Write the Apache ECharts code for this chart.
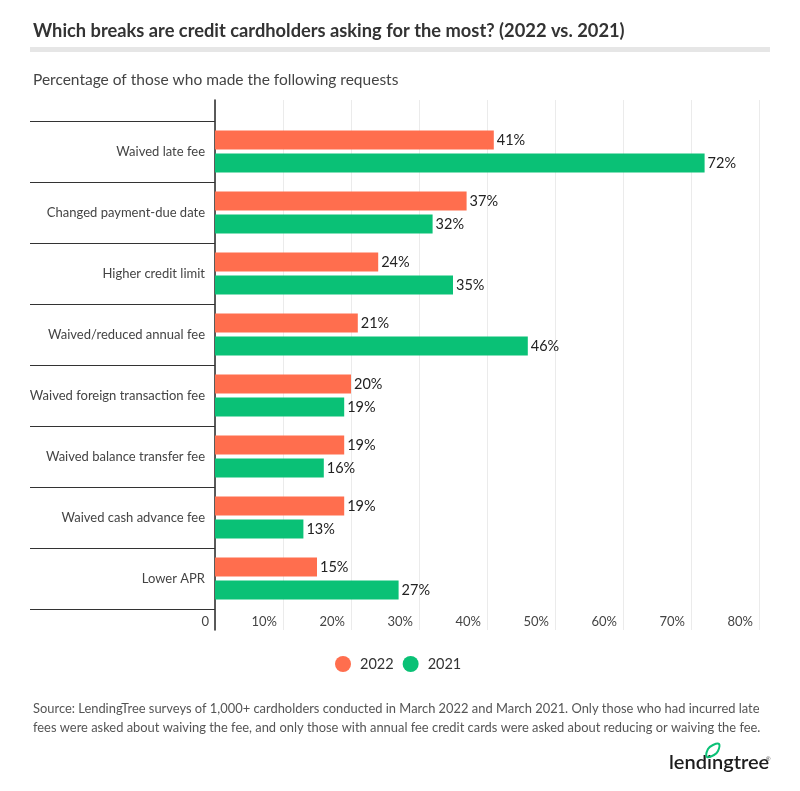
<!DOCTYPE html>
<html><head><meta charset="utf-8">
<script src="https://cdn.jsdelivr.net/npm/echarts@6/dist/echarts.min.js"></script>
<style>html,body{margin:0;padding:0;background:#fff}#c{width:800px;height:791px}</style>
</head><body><div id="c"></div>
<script>
const categories = ["Waived late fee","Changed payment-due date","Higher credit limit","Waived/reduced annual fee","Waived foreign transaction fee","Waived balance transfer fee","Waived cash advance fee","Lower APR"];
const values2022 = [41,37,24,21,20,19,19,15];
const values2021 = [72,32,35,46,19,16,13,27];
const seriesNames = ["2022","2021"];
const xTicks = [0,10,20,30,40,50,60,70,80];

const FONT = 'Lato, "Noto Sans", sans-serif';
const chart = echarts.init(document.getElementById('c'), null, {renderer:'canvas'});
const option = {
  backgroundColor:'#fff',
  animation:false,
  textStyle:{fontFamily:FONT},
  title:[
    {text:'Which breaks are credit cardholders asking for the most? (2022 vs. 2021)', left:28, top:17,
     textStyle:{fontFamily:FONT, fontSize:18.3, fontWeight:'bold', color:'#333'}},
    {text:'Percentage of those who made the following requests', left:28, top:67,
     textStyle:{fontFamily:FONT, fontSize:15.5, fontWeight:'normal', color:'#444'}},
    {text:'Source: LendingTree surveys of 1,000+ cardholders conducted in March 2022 and March 2021. Only those who had incurred late\nfees were asked about waiving the fee, and only those with annual fee credit cards were asked about reducing or waiving the fee.',
     left:28, top:694, textStyle:{fontFamily:FONT, fontSize:12.9, fontWeight:'normal', color:'#555', lineHeight:19}}
  ],
  legend:{data:seriesNames, top:651, left:330, icon:'circle', itemWidth:16, itemHeight:16, itemGap:9,
    textStyle:{fontFamily:FONT, fontSize:14.5, color:'#333', padding:[0,0,0,4]}},
  grid:[
    {left:215, right:41, top:100, bottom:161},
    {left:215, right:41, top:121, bottom:182}
  ],
  xAxis:[
    {gridIndex:0, type:'value', min:xTicks[0], max:xTicks[xTicks.length-1], interval:10,
     axisLine:{show:false}, axisTick:{show:false},
     splitLine:{show:true, lineStyle:{color:'#ebebeb', width:1}},
     axisLabel:{inside:true, margin:2, align:'right', padding:[0,6,0,0], fontSize:13, color:'#444', fontFamily:FONT,
       formatter:v=> v===0 ? '0' : v+'%'}},
    {gridIndex:1, type:'value', min:xTicks[0], max:xTicks[xTicks.length-1], show:false}
  ],
  yAxis:[
    {gridIndex:0, type:'value', min:0, max:1, axisLine:{show:true, lineStyle:{color:'#333', width:1.6}},
     axisTick:{show:false}, axisLabel:{show:false}, splitLine:{show:false}},
    {gridIndex:1, type:'category', inverse:true, data:categories,
     axisLine:{show:false},
     axisTick:{show:true, length:185, lineStyle:{color:'#333', width:1}},
     axisLabel:{margin:10, fontSize:13, color:'#444', fontFamily:FONT},
     splitLine:{show:false}}
  ],
  series:[
    {name:seriesNames[0], type:'bar', xAxisIndex:1, yAxisIndex:1, data:values2022, barWidth:19, barGap:'20%',
     itemStyle:{color:'#FF6E4E'},
     label:{show:true, position:'right', distance:3, formatter:'{c}%', fontSize:14.5, color:'#222', fontFamily:FONT}},
    {name:seriesNames[1], type:'bar', xAxisIndex:1, yAxisIndex:1, data:values2021, barWidth:19, barGap:'20%',
     itemStyle:{color:'#0AC176'},
     label:{show:true, position:'right', distance:3, formatter:'{c}%', fontSize:14.5, color:'#222', fontFamily:FONT}}
  ],
  graphic:[
    {type:'rect', shape:{x:30, y:47, width:740, height:5}, style:{fill:'#e6e6e6'}},
    {type:'text', x:669, y:753, style:{text:'lendingtree', font:'600 20px Lato, sans-serif', fill:'#1d1d1d'}},
    {type:'polygon', shape:{points:[[707,757],[708,749],[713,745],[719,744],[718,751],[714,755]], smooth:0.4}, style:{fill:'none', stroke:'#0AC176', lineWidth:2}},
    {type:'text', x:766, y:756, style:{text:'®', font:'6px sans-serif', fill:'#333'}}
  ]
};
chart.setOption(option);
</script></body></html>
